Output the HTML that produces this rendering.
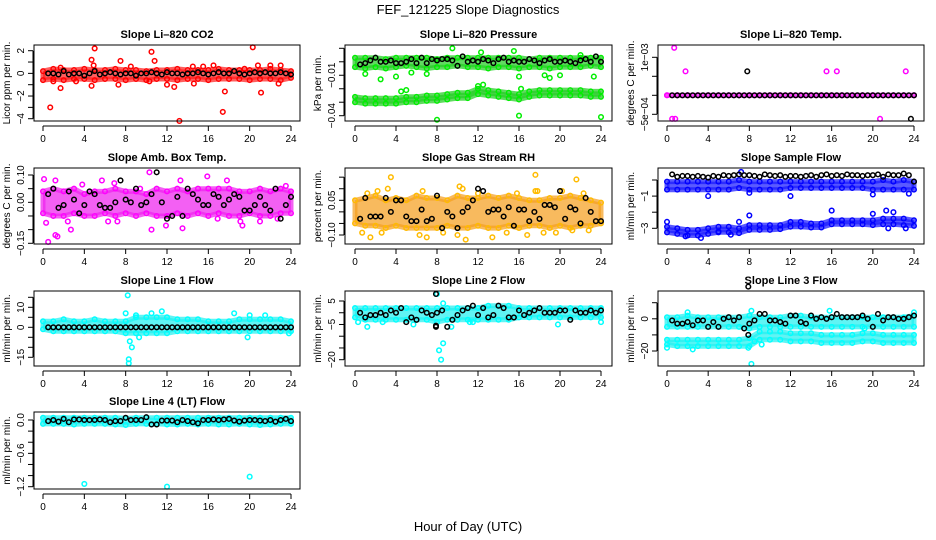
<!DOCTYPE html>
<html><head><meta charset="utf-8">
<style>
html,body{margin:0;padding:0;background:#fff;}
svg{display:block;font-family:"Liberation Sans",sans-serif;}
</style></head>
<body>
<svg id="chart" width="936" height="540" viewBox="0 0 936 540" xmlns="http://www.w3.org/2000/svg">
<text x="468" y="14" text-anchor="middle" font-size="13">FEF_121225  Slope Diagnostics</text>
<text x="468" y="531" text-anchor="middle" font-size="13">Hour of Day (UTC)</text>
</svg>
<script>
// ---------- data ----------
const bandHours = [0,1,2,3,4,5,6,7,8,9,10,11,12,13,14,15,16,17,18,19,20,21,22,23,24];
const blackHours = [0.5,1,1.5,2,2.5,3,3.5,4,4.5,5,5.5,6,6.5,7,7.5,8,8.5,9,9.5,10,10.5,11,11.5,12,12.5,13,13.5,14,14.5,15,15.5,16,16.5,17,17.5,18,18.5,19,19.5,20,20.5,21,21.5,22,22.5,23,23.5,24];

// CO2
const co2Hi = [0.2,0.4,0.3,0.3,0.4,0.3,0.3,0.4,0.3,0.3,0.2,0.3,0.3,0.4,0.3,0.3,0.3,0.4,0.3,0.3,0.3,0.3,0.4,0.3,0.2];
const co2Lo = [-0.6,-0.5,-0.6,-0.5,-0.5,-0.6,-0.5,-0.5,-0.6,-0.5,-0.6,-0.5,-0.5,-0.6,-0.5,-0.5,-0.6,-0.5,-0.5,-0.5,-0.6,-0.5,-0.5,-0.6,-0.4];
const co2OutX = [0.7,1.7,1.7,4.7,4.7,5,4.9,7.5,8.5,10.5,10.8,12,12.7,13.2,14.6,14.5,15.5,16.5,17.6,17.4,19.5,20.3,20.8,21.1,22,22.8,23,1,3.2,10.3,7.3];
const co2OutY = [-3,-1.3,0.5,-1.1,1.2,2.2,0.7,1.1,0.6,1.9,1.1,-1,-1.2,-4.2,-0.9,0.6,0.6,0.7,-1.6,-3.4,0.4,2.3,0.7,-1.7,0.7,-0.9,0.7,-0.7,-0.7,-0.7,-1];
const co2Black = [0,0,-0.1,0.2,-0.1,0,0,-0.2,0,0.2,-0.1,0,0.1,0,-0.1,0,0,-0.2,0,0,0.1,0,-0.1,0.1,0,0,-0.1,0,0,0.1,0,-0.1,0,0.1,0,0,0.2,0,-0.1,0,0.1,0,0.1,0,0,0.1,0,-0.1];

// Pressure
const presHi = [0.003,0.003,0.003,0.002,0.003,0.003,0.003,0.003,0.002,0.003,0.003,0.003,0.003,0.003,0.003,0.003,0.003,0.002,0.003,0.003,0.003,0.003,0.003,0.003,0.003];
const presLo = [-0.004,-0.005,-0.004,-0.005,-0.004,-0.003,-0.004,-0.005,-0.004,-0.004,-0.003,-0.004,-0.004,-0.005,-0.004,-0.004,-0.005,-0.004,-0.004,-0.005,-0.004,-0.004,-0.004,-0.003,-0.004];
const pres2Hi = [-0.026,-0.027,-0.027,-0.027,-0.027,-0.026,-0.026,-0.025,-0.025,-0.024,-0.023,-0.023,-0.020,-0.021,-0.022,-0.023,-0.024,-0.022,-0.021,-0.021,-0.021,-0.021,-0.021,-0.022,-0.022];
const pres2Lo = [-0.030,-0.031,-0.031,-0.031,-0.031,-0.030,-0.030,-0.029,-0.029,-0.028,-0.027,-0.027,-0.024,-0.025,-0.026,-0.027,-0.028,-0.026,-0.025,-0.025,-0.025,-0.025,-0.025,-0.026,-0.026];
const presOutX = [8,16,24,2.5,4,4.5,5,12,15.5,9.5,12.3,22,23.3,16,7,5.5,1,19,20,18.5,16.2,12.5];
const presOutY = [-0.043,-0.040,-0.041,-0.013,-0.011,-0.022,-0.021,-0.018,0.008,0.010,0.007,0.005,-0.011,-0.011,-0.009,-0.008,-0.009,-0.012,-0.010,-0.010,-0.020,-0.017];
const presBlack = [-0.002,-0.001,0.001,0.003,0.000,0.000,0.001,-0.001,-0.001,0.000,0.002,-0.001,0.003,-0.001,0.002,0.001,0.002,0.002,0.001,-0.003,0.004,0.000,0.001,0.000,0.002,0.001,-0.001,0.002,0.003,0.000,0.001,0.000,0.000,0.002,0.001,-0.001,0.001,0.002,0.000,0.000,0.001,0.000,-0.001,0.001,0.002,0.000,0.004,0.000];

// Li-820 Temp
const tempHi = [0,0,0,0,0,0,0,0,0,0,0,0,0,0,0,0,0,0,0,0,0,0,0,0,0];
const tempLo = [0,0,0,0,0,0,0,0,0,0,0,0,0,0,0,0,0,0,0,0,0,0,0,0,0];
const tempOutX = [0.7,1.8,15.5,16.5,23.2,0.5,0.8,20.7];
const tempOutY = [0.00125,0.00063,0.00063,0.00063,0.00063,-0.00062,-0.00062,-0.00062];
const tempBlack = [0,0,0,0,0,0,0,0,0,0,0,0,0,0,0,0,0,0,0,0,0,0,0,0,0,0,0,0,0,0,0,0,0,0,0,0,0,0,0,0,0,0,0,0,0,0,0,0];
const tempBlackOutX = [7.8,23.7];
const tempBlackOutY = [0.00063,-0.00062];

// Amb box temp
const ambHi = [0.04,0.05,0.04,0.05,0.03,0.04,0.04,0.05,0.04,0.04,0.03,0.05,0.04,0.05,0.04,0.05,0.05,0.05,0.05,0.04,0.04,0.05,0.04,0.05,0.04];
const ambLo = [-0.04,-0.05,-0.05,-0.04,-0.05,-0.05,-0.04,-0.05,-0.04,-0.05,-0.04,-0.05,-0.05,-0.04,-0.05,-0.04,-0.05,-0.04,-0.05,-0.05,-0.04,-0.05,-0.05,-0.04,-0.04];
const ambOutX = [0.1,0.3,0.5,1.2,1.4,2.7,1.2,5.7,10.3,10.5,13.5,15.9,13.3,17.8,19.3,19.1,21,22.7,23.5,16.9,9.4,2.4,11.9,6.3,7.2,3.8,6.9];
const ambOutY = [0.085,-0.075,-0.145,-0.12,-0.125,-0.1,0.08,0.08,0.11,-0.1,-0.095,0.095,0.08,0.08,-0.085,-0.07,-0.07,-0.06,0.06,-0.06,0.05,-0.07,-0.085,-0.07,-0.07,0.065,0.07];
const ambBlack = [0.03,0.05,-0.02,-0.01,0.04,0.01,-0.04,-0.01,0.04,0.03,-0.01,-0.02,-0.02,0.00,0.08,0.01,0.00,0.05,-0.01,0.00,0.03,0.11,0.00,-0.06,-0.05,0.02,-0.05,0.05,0.03,0.01,-0.01,-0.01,0.03,0.02,-0.01,0.01,0.03,0.02,-0.03,-0.03,-0.01,0.02,-0.01,-0.03,0.05,-0.06,-0.01,0.02];

// Gas stream RH
const rhHi = [0.05,0.06,0.07,0.05,0.06,0.05,0.07,0.06,0.06,0.05,0.07,0.06,0.06,0.07,0.06,0.07,0.06,0.05,0.05,0.06,0.06,0.07,0.06,0.05,0.04];
const rhLo = [-0.05,-0.06,-0.06,-0.07,-0.06,-0.07,-0.07,-0.07,-0.07,-0.06,-0.07,-0.07,-0.06,-0.07,-0.07,-0.06,-0.07,-0.06,-0.06,-0.07,-0.06,-0.07,-0.06,-0.06,-0.05];
const rhOutX = [3.5,3.2,10.2,10.5,17.6,17.8,21.6,0.7,1.5,2.6,6.3,7,8.6,10,10.8,13.4,14.8,16.8,18.4,19.6,21.2,22.8,1.2,6.6,12,15.8,17.6,20.2,22.3,2.2];
const rhOutY = [0.15,0.10,0.11,0.10,0.16,0.09,0.14,-0.09,-0.11,-0.09,-0.10,-0.11,-0.09,-0.10,-0.12,-0.11,-0.09,-0.10,-0.09,-0.09,-0.08,-0.08,0.08,0.09,0.08,0.08,0.09,0.09,0.08,0.09];
const rhBlack = [-0.03,0.06,-0.02,-0.02,-0.02,0.06,0.0,0.05,0.05,-0.02,-0.04,-0.04,0.01,-0.04,-0.03,0.07,-0.07,0.0,-0.02,-0.07,0.0,0.02,0.05,0.1,0.09,0.0,0.01,0.01,-0.02,0.02,-0.06,0.01,0.01,-0.04,0.0,-0.03,0.03,0.03,0.02,0.09,-0.03,0.02,0.01,-0.05,0.06,0.0,-0.04,-0.04];

// Sample flow
const sfHi = [-0.1,-0.1,-0.1,-0.1,-0.1,-0.1,-0.1,0.0,-0.1,-0.1,-0.1,-0.1,-0.1,-0.1,-0.1,-0.1,-0.1,-0.1,-0.1,-0.1,-0.1,0.0,-0.1,0.0,-0.1];
const sfLo = [-0.6,-0.6,-0.6,-0.6,-0.6,-0.6,-0.6,-0.5,-0.6,-0.6,-0.6,-0.6,-0.5,-0.5,-0.5,-0.5,-0.5,-0.5,-0.5,-0.5,-0.6,-0.6,-0.6,-0.6,-0.6];
const sf2Hi = [-2.9,-3.0,-3.1,-3.1,-3.0,-2.9,-2.9,-3.0,-2.8,-2.8,-2.8,-2.8,-2.6,-2.6,-2.7,-2.7,-2.5,-2.5,-2.5,-2.5,-2.5,-2.4,-2.4,-2.4,-2.5];
const sf2Lo = [-3.25,-3.35,-3.45,-3.45,-3.35,-3.25,-3.25,-3.3,-3.1,-3.1,-3.1,-3.05,-2.9,-2.9,-2.95,-2.95,-2.75,-2.75,-2.75,-2.75,-2.8,-2.75,-2.75,-2.8,-2.85];
const sfOutX = [0,4,12,20,23.5,7.2,8,8,3.3,1.8,6.2,16,20,21.3,22,23.2,21.5,7,5];
const sfOutY = [-2.6,-1.0,-1.0,-0.9,-0.85,0.5,-0.8,-2.2,-3.6,-3.5,-3.4,-1.9,-2.1,-1.9,-2.0,-3.0,-3.0,-2.6,-3.2];
const sfBlack = [0.35,0.2,0.25,0.25,0.2,0.25,0.2,0.15,0.25,0.2,0.3,0.25,0.3,0.35,0.3,0.3,0.25,0.2,0.35,0.3,0.25,0.3,0.2,0.25,0.25,0.2,0.25,0.3,0.2,0.3,0.35,0.25,0.3,0.25,0.35,0.3,0.3,0.25,0.3,0.3,0.35,0.2,0.35,0.3,0.3,0.4,0.3,-0.1];

// Line 1
const l1Hi = [3,3,4,3,3,4,3,3,3,5,5,5,5,4,4,4,3,3,3,4,4,4,4,4,3];
const l1Lo = [-1,-2,-2,-2,-2,-2,-2,-2,-3,-3,-3,-3,-3,-2,-2,-2,-2,-2,-2,-2,-2,-2,-2,-2,-2];
const l1OutX = [8.2,8,8.4,8.6,8.3,8.3,9,9.3,19.8,23.8,18.5,20,21.5,11.5,10.5];
const l1OutY = [16,7,-7,-10,-16,-18,6,-5,-5,-3,7,6,6,8,7];
const l1Black = [0,0,0,0,0,0,0,0,0,0,0,0,0,0,0,0,0,0,0,0,0,0,0,0,0,0,0,0,0,0,0,0,0,0,0,0,0,0,0,0,0,0,0,0,0,0,0,0];

// Line 2
const l2Hi = [2,2,2,2,2,2,2,2,2,2,2,2,2,3,3,3,2,2,2,2,2,2,2,2,2];
const l2Lo = [-2,-3,-3,-3,-3,-3,-3,-3,-4,-3,-3,-3,-3,-3,-3,-3,-2,-2,-2,-2,-2,-2,-2,-2,-2];
const l2OutX = [8.2,8.4,8.6,8,8.6,9.4,19.8,24,1.2,5.7,0.3,2.7,11.2,11.5];
const l2OutY = [-16,-20,-13,8,4,-6,-5,-4,-6,-5,-4,-4,-4,-4];
const l2Black = [0,-2,-1,-1,0,-1,1,0,2,-4,-2,-3,1,0,-1,0,1,-6,-3,-1,1,2,3,-1,2,-2,-1,3,2,-2,-2,1,-1,0,1,2,0,0,0,1,1,-3,1,0,0,1,0,1];
const l2BlackOutX = [7.9,7.9,7.9];
const l2BlackOutY = [8,-6,-5.5];

// Line 3
const l3Hi = [1,1,2,1,1,1,1,1,2,1,1,1,2,2,1,1,1,1,1,1,1,1,1,1,2];
const l3Lo = [-5,-5,-5,-5,-5,-5,-5,-5,-6,-5,-5,-5,-5,-5,-5,-5,-5,-5,-5,-5,-5,-5,-5,-5,-5];
const l3bHi = [-13,-13,-13,-13,-13,-13,-13,-13,-12,-8,-8,-8,-9,-9,-9,-10,-10,-10,-10,-9,-9,-10,-10,-10,-10];
const l3bLo = [-16,-17,-17,-17,-17,-17,-17,-17,-17,-13,-13,-13,-14,-14,-14,-15,-15,-15,-15,-14,-14,-15,-15,-15,-15];
const l3OutX = [8.2,8.2,15.8,24,0,2.5,7.9,8.5,9.2,2,19.2];
const l3OutY = [-28,5,5,4,-18,-19,-18,-14,-16,4,-6];
const l3Black = [-1,-3,-3,-2,-4,-1,-1,-5,-2,-5,0,1,-1,1,-6,-3,-1,3,3,-1,-1,-2,-3,2,2,-2,-3,2,0,1,0,1,3,1,1,1,1,2,0,-5,3,-1,1,1,0,0,1,2];
const l3BlackOutX = [7.9,7.9];
const l3BlackOutY = [20,-10];

// Line 4
const l4Hi = [0.04,0.04,0.04,0.04,0.04,0.04,0.04,0.04,0.03,0.04,0.04,0.04,0.04,0.04,0.04,0.04,0.04,0.04,0.04,0.04,0.04,0.04,0.04,0.04,0.04];
const l4Lo = [-0.07,-0.07,-0.07,-0.08,-0.07,-0.07,-0.07,-0.08,-0.09,-0.07,-0.07,-0.07,-0.08,-0.08,-0.07,-0.08,-0.07,-0.08,-0.08,-0.07,-0.08,-0.09,-0.08,-0.07,-0.07];
const l4OutX = [4,12,20];
const l4OutY = [-1.15,-1.2,-1.02];
const l4Black = [-0.02,0.0,-0.03,0.02,-0.04,0.01,0.01,0.0,0.0,0.0,0.01,0.0,-0.04,-0.02,-0.02,0.04,0.0,0.0,0.0,0.05,-0.08,-0.08,-0.01,-0.01,-0.01,-0.04,0.0,-0.02,-0.04,-0.06,0.0,0.0,0.01,0.0,0.01,0.02,-0.01,-0.03,-0.01,0.0,0.0,-0.01,-0.02,0.0,-0.03,0.0,0.02,-0.02];

const xTicks = [0,4,8,12,16,20,24];

// ---------- rendering ----------
const NS = 'http://www.w3.org/2000/svg';
const svg = document.getElementById('chart');
function mk(tag, attrs, parent){
  const e = document.createElementNS(NS, tag);
  for (const k in attrs) e.setAttribute(k, attrs[k]);
  (parent||svg).appendChild(e);
  return e;
}
const cols = [{x0:34,x1:300,h0:43,h24:291},{x0:345,x1:612,h0:355,h24:601},{x0:658,x1:924,h0:667,h24:914}];
const rows = [{y0:45,y1:121},{y0:168,y1:244},{y0:291,y1:366},{y0:412,y1:489}];

const panels = [
 {id:'co2',title:'Slope Li\u2013820 CO2',ylab:'Licor ppm per min.',c:0,r:0,cal:[2,50.7,-4,118.7],ticks:[-4,-3,-2,-1,0,1,2],labels:[[-4,'\u22124'],[-2,'\u22122'],[0,'0'],[2,'2']],color:'#ff0000',fill:'#ff2020',bands:[[co2Hi,co2Lo]],outX:co2OutX,outY:co2OutY,black:co2Black},
 {id:'pressure',title:'Slope Li\u2013820 Pressure',ylab:'kPa per min.',c:1,r:0,cal:[0.01,48.3,-0.04,115.7],ticks:[0.01,0,-0.01,-0.02,-0.03,-0.04],labels:[[-0.01,'\u22120.01'],[-0.04,'\u22120.04']],color:'#00ee00',fill:'#22cc22',bands:[[presHi,presLo],[pres2Hi,pres2Lo]],outX:presOutX,outY:presOutY,black:presBlack},
 {id:'li820-temp',title:'Slope Li\u2013820 Temp.',ylab:'degrees C per min.',c:2,r:0,cal:[0.001,57.3,-0.0005,114.3],ticks:[0.001,0.0005,0,-0.0005],labels:[[0.001,'1e\u221203'],[-0.0005,'\u22125e\u221204']],color:'#ff00ff',fill:'#ff00ff',bands:[[tempHi,tempLo]],outX:tempOutX,outY:tempOutY,black:tempBlack,bOutX:tempBlackOutX,bOutY:tempBlackOutY},
 {id:'amb-box-temp',title:'Slope Amb. Box Temp.',ylab:'degrees C per min.',c:0,r:1,cal:[0.1,175,-0.15,243.3],ticks:[0.1,0.05,0,-0.05,-0.1,-0.15],labels:[[0.1,'0.10'],[0,'0.00'],[-0.15,'\u22120.15']],color:'#ff00ff',fill:'#ee22ee',bands:[[ambHi,ambLo]],outX:ambOutX,outY:ambOutY,black:ambBlack},
 {id:'gas-stream-rh',title:'Slope Gas Stream RH',ylab:'percent per min.',c:1,r:1,cal:[0.05,200.3,-0.1,235],ticks:[0.15,0.1,0.05,0,-0.05,-0.1],labels:[[0.05,'0.05'],[-0.1,'\u22120.10']],color:'#ffbb00',fill:'#f5a020',bands:[[rhHi,rhLo]],outX:rhOutX,outY:rhOutY,black:rhBlack},
 {id:'sample-flow',title:'Slope Sample Flow',ylab:'ml/min per min.',c:2,r:1,cal:[0,180,-3,228.3],ticks:[0,-1,-2,-3],labels:[[-1,'\u22121'],[-3,'\u22123']],color:'#0000ff',fill:'#1a1aff',bands:[[sfHi,sfLo],[sf2Hi,sf2Lo]],outX:sfOutX,outY:sfOutY,black:sfBlack},
 {id:'line1-flow',title:'Slope Line 1 Flow',ylab:'ml/min per min.',c:0,r:2,cal:[10,307.3,-15,357.3],ticks:[15,10,5,0,-5,-10,-15],labels:[[10,'10'],[0,'0'],[-15,'\u221215']],color:'#00ffff',fill:'#22f0f0',bands:[[l1Hi,l1Lo]],outX:l1OutX,outY:l1OutY,black:l1Black},
 {id:'line2-flow',title:'Slope Line 2 Flow',ylab:'ml/min per min.',c:1,r:2,cal:[5,301,-20,359.7],ticks:[5,0,-5,-10,-15,-20],labels:[[5,'5'],[-5,'\u22125'],[-20,'\u221220']],color:'#00ffff',fill:'#22f0f0',bands:[[l2Hi,l2Lo]],outX:l2OutX,outY:l2OutY,black:l2Black,bOutX:l2BlackOutX,bOutY:l2BlackOutY},
 {id:'line3-flow',title:'Slope Line 3 Flow',ylab:'ml/min per min.',c:2,r:2,cal:[10,302.7,-20,351],ticks:[10,0,-10,-20],labels:[[0,'0'],[-20,'\u221220']],color:'#00ffff',fill:'#22f0f0',bands:[[l3Hi,l3Lo],[l3bHi,l3bLo]],outX:l3OutX,outY:l3OutY,black:l3Black,bOutX:l3BlackOutX,bOutY:l3BlackOutY},
 {id:'line4-flow',title:'Slope Line 4 (LT) Flow',ylab:'ml/min per min.',c:0,r:3,cal:[0,420,-1.2,486.7],ticks:[0,-0.2,-0.4,-0.6,-0.8,-1,-1.2],labels:[[0,'0.0'],[-0.6,'\u22120.6'],[-1.2,'\u22121.2']],color:'#00ffff',fill:'#22f0f0',bands:[[l4Hi,l4Lo]],outX:l4OutX,outY:l4OutY,black:l4Black}
];

panels.forEach(p=>{
  const col = cols[p.c], row = rows[p.r];
  const xs = h => col.h0 + (col.h24-col.h0)*h/24;
  const ys = v => p.cal[1] + (v-p.cal[0])*(p.cal[3]-p.cal[1])/(p.cal[2]-p.cal[0]);
  const g = mk('g',{});
  
  

  p.bands.forEach((b,bi)=>{
    const hi=b[0], lo=b[1];
    const pts=[];
    bandHours.forEach((h,i)=>pts.push(xs(h).toFixed(1)+','+ys(hi[i]).toFixed(1)));
    for(let i=bandHours.length-1;i>=0;i--) pts.push(xs(bandHours[i]).toFixed(1)+','+ys(lo[i]).toFixed(1));
    const poly = mk('polygon',{points:pts.join(' '),fill:p.fill,stroke:p.fill,'stroke-width':5,'stroke-linejoin':'round','fill-opacity':0.72,'stroke-opacity':0.72},g);
    
    
    bandHours.forEach((h,i)=>{
      [hi[i],lo[i]].forEach(v=>{
        const c = mk('circle',{cx:xs(h),cy:ys(v),r:2.3,fill:'none',stroke:p.color,'stroke-width':1.4},g);
        
        
      });
    });
  });
  p.outX.forEach((h,i)=>{
    const c = mk('circle',{cx:xs(h),cy:ys(p.outY[i]),r:2.3,fill:'none',stroke:p.color,'stroke-width':1.5},g);
    
    
  });
  p.black.forEach((v,i)=>{
    const c = mk('circle',{cx:xs(blackHours[i]),cy:ys(v),r:2.3,fill:'none',stroke:'#000','stroke-width':1.5},g);
    
    
  });
  if(p.bOutX){
    p.bOutX.forEach((h,i)=>{
      const c = mk('circle',{cx:xs(h),cy:ys(p.bOutY[i]),r:2.3,fill:'none',stroke:'#000','stroke-width':1.5},g);
      
      
    });
  }
  const box = mk('rect',{x:col.x0,y:row.y0,width:col.x1-col.x0,height:row.y1-row.y0,fill:'none',stroke:'#000','stroke-width':1},g);
  
  
  const t = mk('text',{x:(col.x0+col.x1)/2,y:row.y0-7,'text-anchor':'middle','font-size':11,'font-weight':'bold'},g);
  t.textContent = p.title;
  
  
  const xa = mk('line',{x1:xs(0),x2:xs(24),y1:row.y1+5,y2:row.y1+5,stroke:'#000'},g);
  
  
  xTicks.forEach(h=>{
    mk('line',{x1:xs(h),x2:xs(h),y1:row.y1+5,y2:row.y1+10,stroke:'#000'},g);
    const l = mk('text',{x:xs(h),y:row.y1+21,'text-anchor':'middle','font-size':10},g);
    l.textContent = h;
    
    
  });
  const ya = mk('line',{x1:col.x0-1,x2:col.x0-1,y1:ys(p.ticks[0]),y2:ys(p.ticks[p.ticks.length-1]),stroke:'#000'},g);
  
  
  p.ticks.forEach(v=>{
    mk('line',{x1:col.x0-6,x2:col.x0-1,y1:ys(v),y2:ys(v),stroke:'#000'},g);
  });
  p.labels.forEach(([v,s])=>{
    const x = col.x0-10, y = ys(v);
    const l = mk('text',{x:x,y:y,'text-anchor':'middle','font-size':10,transform:'rotate(-90 '+x+' '+y+')'},g);
    l.textContent = s;
    
    
  });
  const yx = col.x0-24, yy=(row.y0+row.y1)/2;
  const yl = mk('text',{x:yx,y:yy,'text-anchor':'middle','font-size':10,transform:'rotate(-90 '+yx+' '+yy+')'},g);
  yl.textContent = p.ylab;
  
  
});
</script>
</body></html>
